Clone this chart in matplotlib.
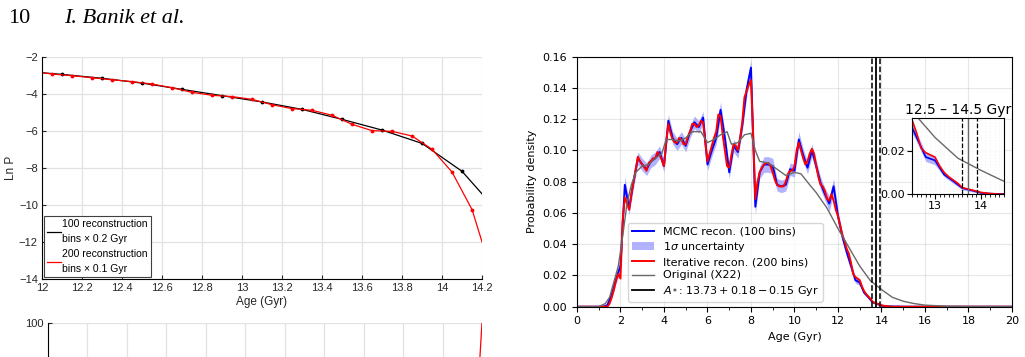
import matplotlib
matplotlib.use('Agg')
import matplotlib.pyplot as plt
from matplotlib.patches import Patch
from matplotlib.lines import Line2D
import numpy as np

#%% data -- left panel (Ln P against age)
age_100 = [12.0, 12.1, 12.3, 12.5, 12.7, 12.9, 13.1, 13.3, 13.5, 13.7, 13.9, 14.1, 14.2]
lnp_100 = [-2.85, -2.94, -3.15, -3.41, -3.75, -4.09, -4.43, -4.83, -5.37, -5.95, -6.67, -8.18, -9.4]

age_200 = [12.0, 12.05, 12.15, 12.25, 12.35, 12.45, 12.55, 12.65, 12.75, 12.85, 12.95, 13.05,
           13.15, 13.25, 13.35, 13.45, 13.55, 13.65, 13.75, 13.85, 13.95, 14.05, 14.15, 14.2]
lnp_200 = [-2.85, -2.92, -3.01, -3.12, -3.23, -3.33, -3.46, -3.66, -3.91, -4.07, -4.14, -4.29,
           -4.58, -4.79, -4.88, -5.15, -5.64, -5.98, -6.02, -6.27, -6.99, -8.22, -10.25, -12.0]

# lower panel, only its top edge is on the page
age_low = [14.18, 14.2]
val_low = [70, 100]

#%% data -- right panel (probability density)
age_mcmc = np.round(np.arange(0, 20.01, 0.2), 1)
p_mcmc = [0, 0, 0, 0, 0, 0, 0, 0.001, 0.008, 0.018,
          0.026, 0.078, 0.063, 0.080, 0.095, 0.091, 0.088, 0.093, 0.095, 0.099,
          0.090, 0.119, 0.108, 0.104, 0.108, 0.103, 0.112, 0.118, 0.115, 0.121,
          0.091, 0.100, 0.108, 0.126, 0.108, 0.086, 0.103, 0.099, 0.116, 0.139,
          0.153, 0.064, 0.086, 0.091, 0.091, 0.090, 0.078, 0.077, 0.078, 0.088,
          0.087, 0.107, 0.097, 0.089, 0.100, 0.090, 0.079, 0.072, 0.066, 0.077,
          0.058, 0.045, 0.035, 0.026, 0.017, 0.0155, 0.009, 0.006, 0.0028, 0.0018,
          0.0007, 0.0003, 0.0002, 0.0001, 0.0001] + [0.0] * 26
sig_mcmc = [0, 0, 0, 0, 0, 0, 0, 0.001, 0.002, 0.003,
            0.004, 0.005, 0.004, 0.004, 0.004, 0.004, 0.004, 0.004, 0.004, 0.004,
            0.004, 0.004, 0.004, 0.004, 0.004, 0.004, 0.004, 0.004, 0.004, 0.004,
            0.004, 0.004, 0.004, 0.005, 0.004, 0.004, 0.004, 0.004, 0.004, 0.005,
            0.005, 0.005, 0.004, 0.005, 0.005, 0.005, 0.004, 0.004, 0.004, 0.004,
            0.004, 0.005, 0.004, 0.004, 0.004, 0.004, 0.004, 0.004, 0.005, 0.005,
            0.004, 0.003, 0.003, 0.002, 0.002, 0.002, 0.001, 0.001, 0.0008, 0.0006,
            0.0004, 0.0002, 0.0001, 0.0001, 0.0001] + [0.0] * 26

age_iter = np.round(np.arange(0, 20.01, 0.1), 1)
p_iter = [0.0] * 15 + [
    0.002, 0.006, 0.011, 0.017, 0.021, 0.018, 0.055, 0.070, 0.066, 0.062,
    0.072, 0.080, 0.088, 0.096, 0.093, 0.091, 0.089, 0.087, 0.092, 0.093,
    0.095, 0.095, 0.099, 0.097, 0.094, 0.090, 0.105, 0.117, 0.111, 0.107,
    0.105, 0.105, 0.108, 0.107, 0.104, 0.104, 0.109, 0.112, 0.117, 0.117,
    0.115, 0.116, 0.119, 0.118, 0.105, 0.093, 0.098, 0.103, 0.108, 0.112,
    0.123, 0.122, 0.110, 0.100, 0.090, 0.089, 0.097, 0.104, 0.103, 0.100,
    0.108, 0.118, 0.134, 0.138, 0.142, 0.145, 0.110, 0.069, 0.080, 0.086,
    0.089, 0.091, 0.092, 0.092, 0.090, 0.086, 0.081, 0.078, 0.077, 0.077,
    0.077, 0.080, 0.085, 0.087, 0.087, 0.090, 0.100, 0.105, 0.100, 0.095,
    0.091, 0.093, 0.098, 0.101, 0.098, 0.090, 0.083, 0.078, 0.077, 0.074,
    0.069, 0.068, 0.072, 0.068, 0.062, 0.058, 0.052, 0.046, 0.042, 0.037,
    0.034, 0.028, 0.021, 0.019, 0.018, 0.017, 0.013, 0.010, 0.008, 0.0065,
    0.005, 0.003, 0.0025, 0.002, 0.0015, 0.0009, 0.0006, 0.0004, 0.0002, 0.0001] + [0.0] * 56

age_x22 = [0, 1.0, 1.3, 1.5, 1.7, 1.9, 2.1, 2.3, 2.5, 2.7, 3.0, 3.3, 3.6, 3.9, 4.1, 4.4, 4.7,
           5.0, 5.3, 5.7, 6.0, 6.3, 6.6, 6.9, 7.1, 7.4, 7.7, 8.0, 8.2, 8.4, 8.8, 9.2, 9.6,
           10.0, 10.3, 10.7, 11.0, 11.5, 12.0, 12.5, 13.0, 13.5, 14.0, 14.5, 15.0, 15.5,
           16.0, 17.0, 18.0, 20.0]
p_x22 = [0, 0, 0.002, 0.006, 0.016, 0.026, 0.045, 0.066, 0.078, 0.086, 0.090, 0.091, 0.095,
         0.098, 0.107, 0.107, 0.106, 0.108, 0.112, 0.112, 0.105, 0.107, 0.110, 0.112, 0.104,
         0.105, 0.110, 0.111, 0.100, 0.093, 0.092, 0.088, 0.084, 0.086, 0.085, 0.078, 0.073,
         0.063, 0.050, 0.038, 0.026, 0.0165, 0.011, 0.006, 0.0035, 0.002, 0.001, 0.0003,
         0.0001, 0]

a_star, a_lo, a_hi = 13.73, 13.58, 13.91

p_mcmc = np.array(p_mcmc)
sig_mcmc = np.array(sig_mcmc)

#%% figure
fig = plt.figure(figsize=(10.25, 3.57), dpi=100)

fig.text(0.008, 0.935, '10', family='Liberation Serif', fontsize=16)
fig.text(0.063, 0.935, 'I. Banik et al.', family='Liberation Serif', style='italic', fontsize=16)

mfont = 'Liberation Sans'
gcol = '#e2e2e2'

# left, Ln P
ax1 = fig.add_axes([0.041, 0.2185, 0.4293, 0.6218])
ax1.plot(age_100, lnp_100, color='k', lw=0.9, marker='.', ms=3.5, markevery=slice(1, -1))
ax1.plot(age_200, lnp_200, color='red', lw=0.9, marker='.', ms=3.5, markevery=slice(1, -1))
ax1.set_xlim(12, 14.2)
ax1.set_ylim(-14, -2)
ax1.set_xticks(np.round(np.arange(12, 14.21, 0.2), 1))
ax1.set_xticklabels(['12', '12.2', '12.4', '12.6', '12.8', '13', '13.2', '13.4', '13.6',
                     '13.8', '14', '14.2'])
ax1.set_yticks(range(-14, -1, 2))
ax1.grid(True, color=gcol, lw=0.9)
ax1.set_axisbelow(True)
for s in ['top', 'right']:
    ax1.spines[s].set_visible(False)
ax1.tick_params(direction='in', length=3, labelsize=8, colors='#262626', pad=3)
for lab in ax1.get_xticklabels() + ax1.get_yticklabels():
    lab.set_family(mfont)
ax1.set_xlabel('Age (Gyr)', family=mfont, fontsize=8.5, color='#262626', labelpad=2)
ax1.set_ylabel('Ln P', family=mfont, fontsize=8.5, color='#262626', labelpad=1)
h1 = [Line2D([], [], color='k', lw=0.9), Line2D([], [], color='red', lw=0.9)]
l1 = ['100 reconstruction\nbins \u00d7 0.2 Gyr', '200 reconstruction\nbins \u00d7 0.1 Gyr']
leg1 = ax1.legend(h1, l1, loc='lower left', borderaxespad=0.2, fancybox=False, framealpha=1,
                  edgecolor='#404040', prop={'family': mfont, 'size': 7.5}, handlelength=1.3,
                  handletextpad=0.15, borderpad=0.3, labelspacing=0.45)
leg1.get_frame().set_linewidth(0.8)
for t in leg1.get_texts():
    t.set_linespacing(1.6)

# lower left panel, cut off by the page
ax3 = fig.add_axes([0.0468, -0.525, 0.4234, 0.6202])
ax3.plot(age_low, val_low, color='red', lw=0.9)
ax3.set_xlim(12, 14.2)
ax3.set_ylim(0, 100)
ax3.set_xticks(np.round(np.arange(12, 14.21, 0.2), 1))
ax3.set_xticklabels([])
ax3.set_yticks([100])
ax3.grid(True, color=gcol, lw=0.9)
ax3.set_axisbelow(True)
for s in ['top', 'right']:
    ax3.spines[s].set_visible(False)
ax3.tick_params(direction='in', length=3, labelsize=8, colors='#262626', pad=3)
for lab in ax3.get_yticklabels():
    lab.set_family(mfont)

# right, probability density
ax2 = fig.add_axes([0.5629, 0.1409, 0.4244, 0.7003])
ax2.fill_between(age_mcmc, p_mcmc - sig_mcmc, p_mcmc + sig_mcmc, color='blue', alpha=0.3, lw=0)
ax2.plot(age_mcmc, p_mcmc, color='blue', lw=1.4)
ax2.plot(age_iter, p_iter, color='red', lw=1.4)
ax2.plot(age_x22, p_x22, color='dimgray', lw=1.0)
ax2.axvline(a_star, color='k', lw=1.3)
ax2.axvline(a_lo, color='k', lw=1.1, ls='--')
ax2.axvline(a_hi, color='k', lw=1.1, ls='--')
ax2.set_xlim(0, 20)
ax2.set_ylim(0, 0.16)
ax2.set_xticks(range(0, 21, 2))
ax2.set_xticks(range(1, 20, 2), minor=True)
ax2.set_yticks(np.arange(0, 0.161, 0.02))
ax2.yaxis.set_major_formatter(matplotlib.ticker.FormatStrFormatter('%.2f'))
ax2.grid(True, alpha=0.3)
ax2.tick_params(labelsize=8)
ax2.set_xlabel('Age (Gyr)', fontsize=8)
ax2.set_ylabel('Probability density', fontsize=8)

handles = [Line2D([], [], color='blue', lw=1.4),
           Patch(color='blue', alpha=0.3, lw=0),
           Line2D([], [], color='red', lw=1.4),
           Line2D([], [], color='dimgray', lw=1.0),
           Line2D([], [], color='k', lw=1.3)]
labels = ['MCMC recon. (100 bins)', r'1$\sigma$ uncertainty', 'Iterative recon. (200 bins)',
          'Original (X22)', r'$A_*$: $13.73 + 0.18 - 0.15$ Gyr']
ax2.legend(handles, labels, loc=(0.117, 0.02), fontsize=8, framealpha=0.8,
           borderpad=0.35, labelspacing=0.3)

# inset around the age of the oldest stars
axi = fig.add_axes([0.8898, 0.4557, 0.0894, 0.2146])
axi.fill_between(age_mcmc, p_mcmc - sig_mcmc, p_mcmc + sig_mcmc, color='blue', alpha=0.3, lw=0)
axi.plot(age_mcmc, p_mcmc, color='blue', lw=1.2)
axi.plot(age_iter, p_iter, color='red', lw=1.2)
axi.plot(age_x22, p_x22, color='dimgray', lw=1.0)
axi.axvline(a_star, color='dimgray', lw=1.0)
axi.axvline(a_lo, color='k', lw=0.9, ls='--')
axi.axvline(a_hi, color='k', lw=0.9, ls='--')
axi.set_xlim(12.5, 14.5)
axi.set_ylim(0, 0.035)
axi.set_xticks([13, 14])
axi.set_xticks(np.arange(12.5, 14.51, 0.1), minor=True)
axi.set_yticks([0, 0.02])
axi.yaxis.set_major_formatter(matplotlib.ticker.FormatStrFormatter('%.2f'))
axi.grid(True, which='both', alpha=0.15, ls=':')
axi.tick_params(labelsize=8, pad=1.5)
axi.tick_params(which='minor', length=2)
axi.set_title('12.5 \u2013 14.5 Gyr', fontsize=10, pad=3)

fig.savefig('out.png', dpi=100)
